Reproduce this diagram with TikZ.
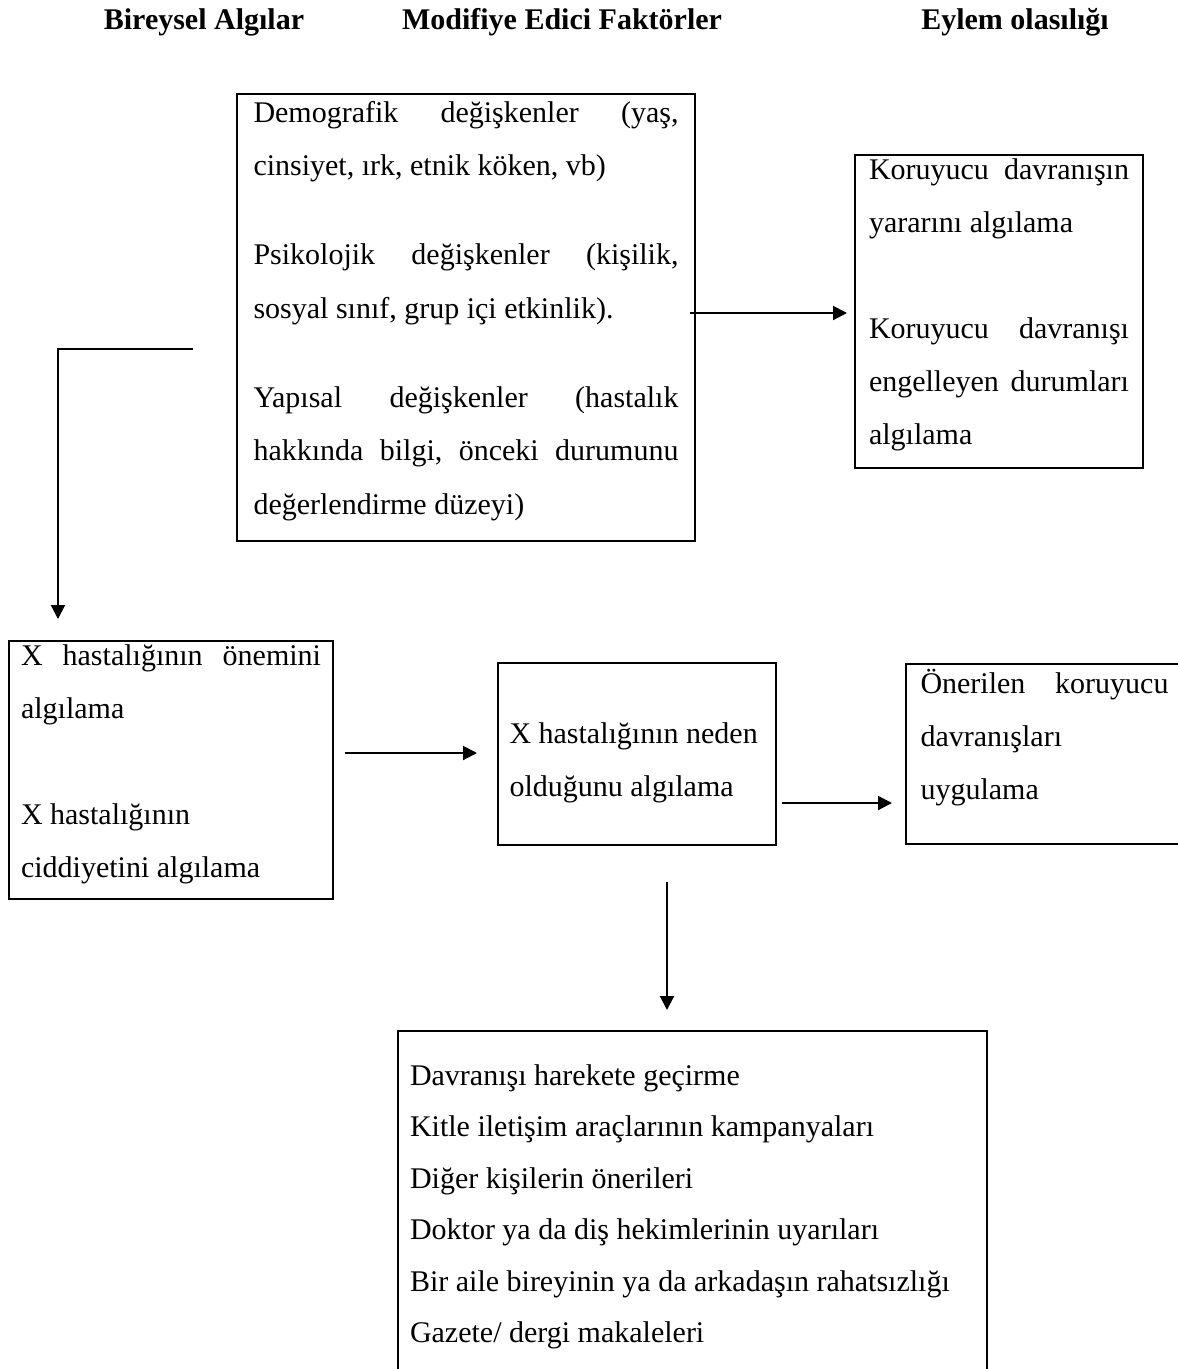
\documentclass[tikz,border=0pt]{standalone}
\usepackage{fontspec}
\setmainfont{Liberation Serif}
\usetikzlibrary{arrows.meta}
\newcommand{\kutuyazi}[4]{\parbox[c][#2][t]{#1}{\rule{0pt}{#3}#4}}
\begin{document}
\begin{tikzpicture}[
        x=0.4pt, y=-0.4pt,
        every node/.style={font=\fontsize{12}{21.2}\selectfont},
        baslik/.style={font=\fontsize{12}{21.2}\selectfont\bfseries},
        kutu/.style={draw, line width=0.8pt, anchor=north west, inner ysep=0pt},
        ok/.style={line width=0.8pt, -{Triangle[length=5.6pt,width=5.6pt]}}
    ]
    \useasboundingbox (0,0) rectangle (1178,1369);

    \node[baslik] (bireysel) at (204,22) {Bireysel Algılar};
    \node[baslik] (modifiye) at (562,22) {Modifiye Edici Faktörler};
    \node[baslik] (eylem) at (1015,22) {Eylem olasılığı};

    \node[kutu, inner xsep=6.6pt] (M) at (236,93) {\kutuyazi{170pt}{178.8pt}{11.2pt}{%
        \fontsize{12}{21.4}\selectfont
        Demografik\hfill değişkenler\hfill (yaş,\\
        cinsiyet, ırk, etnik köken, vb)\\[14.2pt]
        Psikolojik\hfill değişkenler\hfill (kişilik,\\
        sosyal sınıf, grup içi etkinlik).\\[14.2pt]
        Yapısal\hfill değişkenler\hfill (hastalık\\
        hakkında\hfill bilgi,\hfill önceki\hfill durumunu\\
        değerlendirme düzeyi)}};
    \node[kutu, inner xsep=5.6pt] (K) at (854,154) {\kutuyazi{104pt}{125.2pt}{9.6pt}{%
        Koruyucu\hfill davranışın\\
        yararını algılama\\[21.2pt]
        Koruyucu\hfill davranışı\\
        engelleyen\hfill durumları\\
        algılama}};
    \node[kutu, inner xsep=4.8pt] (X) at (8,640) {\kutuyazi{120pt}{103.2pt}{9.6pt}{%
        X\hfill hastalığının\hfill önemini\\
        algılama\\[21.2pt]
        X hastalığının\\
        ciddiyetini algılama}};
    \node[kutu, inner xsep=4.6pt] (N) at (497,662) {\kutuyazi{102pt}{72.8pt}{32pt}{%
        X hastalığının neden\\
        olduğunu algılama}};
    \node[kutu, inner xsep=5.8pt] (U) at (905,663) {\kutuyazi{99.2pt}{72pt}{11.6pt}{%
        Önerilen\hfill koruyucu\\
        davranışları\\
        uygulama}};
    \node[kutu, inner xsep=4.8pt] (B) at (397,1030) {\kutuyazi{226pt}{144pt}{21.6pt}{%
        \fontsize{12}{20.6}\selectfont
        Davranışı harekete geçirme\\
        Kitle iletişim araçlarının kampanyaları\\
        Diğer kişilerin önerileri\\
        Doktor ya da diş hekimlerinin uyarıları\\
        Bir aile bireyinin ya da arkadaşın rahatsızlığı\\
        Gazete/ dergi makaleleri}};

    \coordinate (mk) at (0,313);
    \coordinate (dirsek) at (193,349);
    \coordinate (sol) at (58,0);
    \coordinate (xn) at (0,753);
    \coordinate (nu) at (0,803);
    \coordinate (nb) at (667,0);

    \draw[ok, shorten <=-2.4pt, shorten >=2.8pt] (M.east |- mk) -- (K.west |- mk);
    \draw[ok, shorten >=8.4pt] (dirsek) -| (X.north -| sol);
    \draw[ok, shorten <=4.4pt, shorten >=8pt] (X.east |- xn) -- (N.west |- xn);
    \draw[ok, shorten <=2pt, shorten >=5.2pt] (N.east |- nu) -- (U.west |- nu);
    \draw[ok, shorten <=14.4pt, shorten >=8pt] (N.south -| nb) -- (B.north -| nb);
\end{tikzpicture}
\end{document}
